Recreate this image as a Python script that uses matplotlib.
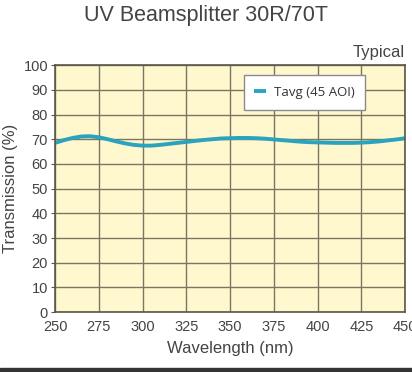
import matplotlib.pyplot as plt
from matplotlib.patches import Rectangle

# Transmission curve
wavelength = [250, 255, 260, 265, 270, 275, 280, 285, 290, 295, 300, 305, 310,
              315, 320, 325, 330, 335, 340, 345, 350, 355, 360, 365, 370, 375,
              380, 385, 390, 395, 400, 405, 410, 415, 420, 425, 430, 435, 440,
              445, 450]
tavg = [68.5, 69.6, 70.5, 71.1, 71.2, 70.8, 70.0, 69.1, 68.3, 67.7, 67.4, 67.4,
        67.7, 68.1, 68.5, 68.9, 69.3, 69.7, 70.0, 70.3, 70.4, 70.5, 70.5, 70.4,
        70.2, 69.9, 69.6, 69.3, 69.0, 68.8, 68.7, 68.6, 68.5, 68.5, 68.5, 68.6,
        68.8, 69.1, 69.5, 69.9, 70.4]

x_ticks = [250, 275, 300, 325, 350, 375, 400, 425, 450]
y_ticks = list(range(0, 101, 10))

plt.rcParams["font.family"] = ["Liberation Sans", "DejaVu Sans"]

fig = plt.figure(figsize=(4.12, 3.72), dpi=100)
ax = fig.add_axes([0.1335, 0.161, 0.85, 0.664])
ax.set_facecolor("#fff8cf")

ax.plot(wavelength, tavg, color="#2aa3bf", lw=2.8, label="Tavg (45 AOI)",
        solid_capstyle="butt")

ax.set_xlim(250, 450)
ax.set_ylim(0, 100)
ax.set_xticks(x_ticks)
ax.set_yticks(y_ticks)
ax.grid(True, color="#7a7662", lw=1.0)
ax.set_axisbelow(True)
for s in ax.spines.values():
    s.set_color("#5a5648")
    s.set_linewidth(1.2)
ax.tick_params(axis="y", length=3, color="#5a5648", labelsize=10.5,
               labelcolor="#444444", pad=2)
ax.tick_params(axis="x", length=0, labelsize=10.5, labelcolor="#444444", pad=6)

ax.set_xlabel("Wavelength (nm)", fontsize=12, color="#444444", labelpad=5)
ax.set_ylabel("Transmission (%)", fontsize=12, color="#444444", labelpad=4)

fig.text(0.5, 0.958, "UV Beamsplitter 30R/70T", ha="center", va="center",
         fontsize=15.5, color="#444444")
ax.text(1.0, 1.02, "Typical", transform=ax.transAxes, ha="right", va="bottom",
        fontsize=12, color="#444444")

leg = ax.legend(loc="upper left", bbox_to_anchor=(0.52, 0.985),
                fancybox=False, framealpha=1, edgecolor="#8a8a8a",
                prop={"family": "Open Sans", "size": 9.5, "weight": "medium"},
                handlelength=0.9, handletextpad=0.6, borderpad=0.8)
leg.get_frame().set_linewidth(1.0)
for t in leg.get_texts():
    t.set_color("#333333")

# dark strip along the bottom edge of the reference image
fig.patches.append(Rectangle((0, 0), 1, 0.011, transform=fig.transFigure,
                             color="#333333", zorder=0))

fig.savefig("out.png", dpi=100)
